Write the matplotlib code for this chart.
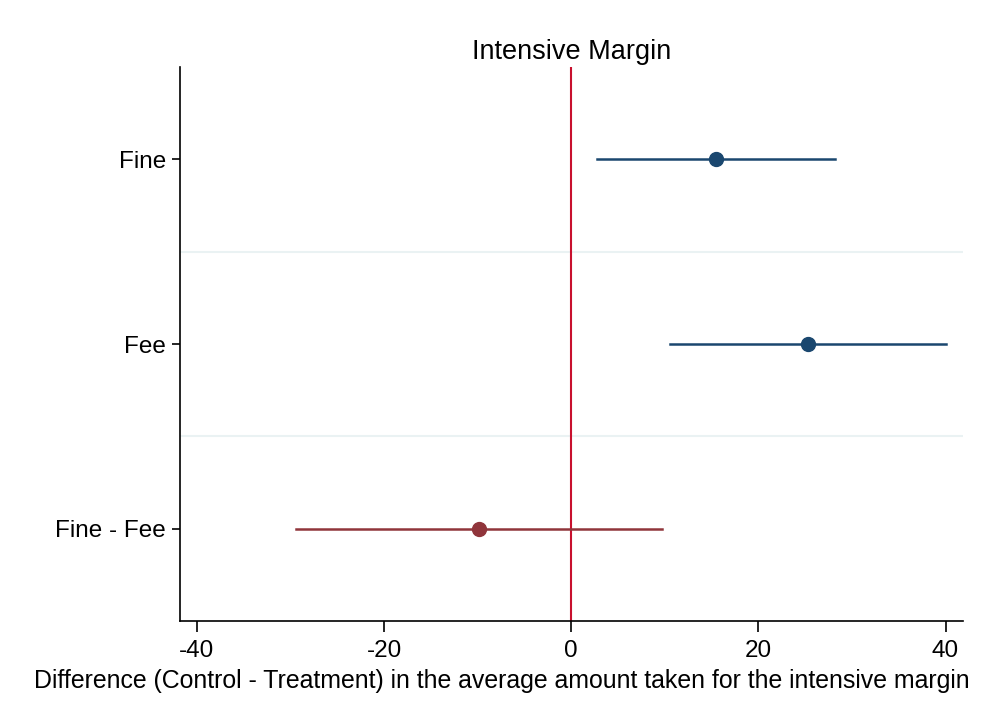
import matplotlib
matplotlib.use("Agg")
import matplotlib.pyplot as plt

plt.rcParams['font.family'] = ['Liberation Sans', 'DejaVu Sans']
plt.rcParams['axes.unicode_minus'] = False

labels = ["Fine", "Fee", "Fine - Fee"]
estimates = [15.5, 25.3, -9.9]
ci_low = [2.8, 10.6, -29.4]
ci_high = [28.2, 40.0, 9.7]
colors = ["#1a476f", "#1a476f", "#90353b"]
ypos = [3, 2, 1]

fig = plt.figure(figsize=(9.84, 7.13), dpi=100)
ax = fig.add_axes([0.183, 0.129, 0.796, 0.777])

# light separators between rows
for yg in [1.5, 2.5]:
    ax.axhline(yg, color="#eaf2f3", lw=1.5, zorder=0)

ax.axvline(0, color="#c8102e", lw=1.5, zorder=1)

for y, est, lo, hi, c in zip(ypos, estimates, ci_low, ci_high, colors):
    ax.plot([lo, hi], [y, y], color=c, lw=1.8, zorder=2)
    ax.plot(est, y, "o", color=c, ms=10, zorder=3)

ax.set_xlim(-41.8, 41.9)
ax.set_ylim(0.5, 3.5)
ax.set_xticks([-40, -20, 0, 20, 40])
ax.set_yticks(ypos)
ax.set_yticklabels(labels)

for s in ["top", "right"]:
    ax.spines[s].set_visible(False)
for s in ["left", "bottom"]:
    ax.spines[s].set_linewidth(1.2)

ax.tick_params(axis="x", labelsize=17.5, length=8, width=1.2, pad=6)
ax.tick_params(axis="y", labelsize=17.5, length=6, width=1.2, pad=4)
ax.set_title("Intensive Margin", fontsize=19.5, pad=6)
# x label is centred on the figure rather than on the axes
fig.text(502 / 984, 1 - 681 / 713,
         "Difference (Control - Treatment) in the average amount taken for the intensive margin",
         fontsize=17.9, ha="center", va="center")

fig.savefig("out.png", dpi=100, facecolor="white")
